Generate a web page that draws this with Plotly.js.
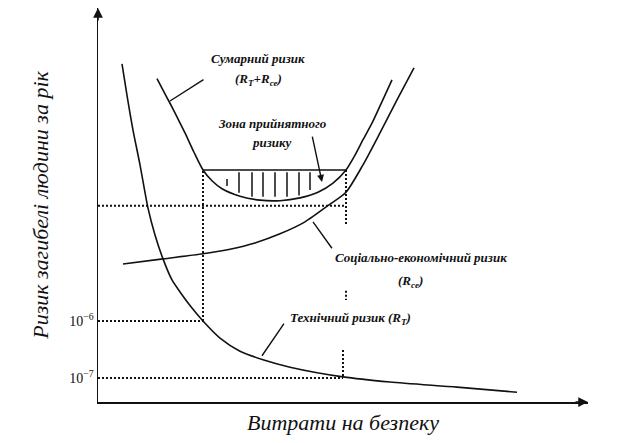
<!DOCTYPE html>
<html>
<head>
<meta charset="utf-8">
<script src="https://cdn.plot.ly/plotly-3.0.1.min.js"></script>
<style>html,body{margin:0;padding:0;background:#fff;}#chart{width:617px;height:443px;}</style>
</head>
<body>
<div id="chart"></div>
<script>
// x: spending on safety (relative units); y: log10 of individual risk of death per year
const techX = [4.8, 5.8, 7.0, 8.4, 10.0, 11.4, 13.0, 14.8, 16.4, 18.6, 21.0, 24.4, 28.4, 33.0, 38.4, 49.0, 58.4, 71.8, 83.8];
const techY = [-1.49, -2.04, -2.65, -3.26, -4.02, -4.49, -4.91, -5.28, -5.49, -5.75, -6.00, -6.30, -6.53, -6.68, -6.81, -6.98, -7.07, -7.16, -7.25];

const socX = [5.0, 13.0, 21.0, 26.4, 31.4, 36.4, 41.4, 46.4, 49.6, 53.0, 56.4, 59.8, 63.2];
const socY = [-5.00, -4.91, -4.82, -4.74, -4.63, -4.47, -4.26, -3.95, -3.74, -3.26, -2.70, -2.12, -1.56];

const totX = [11.8, 13.0, 14.4, 15.8, 17.4, 19.2, 21.0, 22.8, 24.8, 28.4, 32.4, 36.4, 40.4, 44.0, 47.0, 49.6, 51.4, 53.0, 54.8, 56.6, 58.8];
const totY = [-1.75, -1.95, -2.18, -2.42, -2.70, -3.04, -3.35, -3.54, -3.68, -3.81, -3.88, -3.89, -3.84, -3.74, -3.58, -3.35, -3.09, -2.82, -2.53, -2.19, -1.77];

// reference levels and bounds of the acceptable-risk zone
const xLeft = 21.0, xRight = 49.6, xRightLow = 49.0;
const zoneTop = -3.35, levelUpper = -3.98, level6 = -6, level7 = -7;
const rightBreakTop = -4.32, dotsTop = -5.47, dotsBottom = -5.63, rightLowTop = -6.51;

// hatch lines inside the zone
const hatchX = [25.8, 28.2, 30.8, 33.0, 35.4, 37.8, 40.2, 42.4];
const hatchTop = [-3.51, -3.39, -3.39, -3.39, -3.39, -3.39, -3.39, -3.39];
const hatchBot = [-3.63, -3.75, -3.82, -3.82, -3.82, -3.82, -3.80, -3.70];

const tickVals = [-6, -7];
const tickText = ['10<sup>−6</sup>', '10<sup>−7</sup>'];

const gX = [0, xRight, null, 0, xLeft, null, 0, xRightLow, null,
            xLeft, xLeft, null, xRight, xRight, null, xRight, xRight, null, xRightLow, xRightLow];
const gY = [levelUpper, levelUpper, null, level6, level6, null, level7, level7, null,
            level6, zoneTop, null, zoneTop, rightBreakTop, null, dotsTop, dotsBottom, null, rightLowTop, level7];

const hX = [], hY = [];
hatchX.forEach((x, i) => { hX.push(x, x, null); hY.push(hatchTop[i], hatchBot[i], null); });

const lineStyle = {color: '#111', width: 1.6, shape: 'spline', smoothing: 0.7};
const traces = [
  {x: gX, y: gY, mode: 'lines', line: {color: '#111', width: 2, dash: '2px,2px'}, hoverinfo: 'skip'},
  {x: [xLeft, xRight], y: [zoneTop, zoneTop], mode: 'lines', line: {color: '#111', width: 1.5}},
  {x: hX, y: hY, mode: 'lines', line: {color: '#111', width: 1.5}},
  {x: techX, y: techY, mode: 'lines', line: lineStyle, name: 'Технічний ризик'},
  {x: socX, y: socY, mode: 'lines', line: lineStyle, name: 'Соціально-економічний ризик'},
  {x: totX, y: totY, mode: 'lines', line: lineStyle, name: 'Сумарний ризик'}
];

const SERIF = 'Liberation Serif';
const lab = {family: SERIF, size: 13, color: '#111', style: 'italic', weight: 'bold'};
function txt(x, y, t, anchor) {
  return {x: x, y: y, xref: 'x', yref: 'y', text: t, showarrow: false, xanchor: anchor || 'center', yanchor: 'middle', font: lab};
}
function ptr(x, y, ax, ay, head) {
  return {x: x, y: y, ax: ax, ay: ay, xref: 'x', yref: 'y', axref: 'x', ayref: 'y', text: '', showarrow: true,
          arrowhead: head ? 2 : 0, arrowwidth: 1.4, arrowsize: 1, arrowcolor: '#111', standoff: 0, startstandoff: 0};
}

const annotations = [
  txt(32.0, -1.39, 'Сумарний ризик'),
  txt(32.0, -1.77, '(R<sub>T</sub>+R<sub>се</sub>)'),
  txt(34.8, -2.53, 'Зона прийнятного'),
  txt(34.8, -2.86, 'ризику'),
  txt(47.0, -4.89, 'Соціально-економічний ризик', 'left'),
  txt(62.4, -5.30, '(R<sub>се</sub>)'),
  txt(38.0, -5.95, 'Технічний ризик (R<sub>T</sub>)', 'left'),
  ptr(14.4, -2.14, 21.4, -1.75, false),
  ptr(43.0, -4.26, 47.0, -4.75, false),
  ptr(32.8, -6.61, 37.4, -6.02, false),
  ptr(44.8, -3.56, 42.8, -2.74, true),
  {x: 1, y: 0, xref: 'paper', yref: 'paper', ax: -14, ay: 0, text: '', showarrow: true, arrowhead: 2, arrowsize: 1.3, arrowwidth: 1.5, arrowcolor: '#111', standoff: 0},
  {x: 0, y: 1, xref: 'paper', yref: 'paper', ax: 0, ay: 14, text: '', showarrow: true, arrowhead: 2, arrowsize: 1.3, arrowwidth: 1.5, arrowcolor: '#111', standoff: 0}
];

const layout = {
  width: 617, height: 443,
  margin: {l: 98, r: 29, t: 8, b: 41},
  paper_bgcolor: '#fff', plot_bgcolor: '#fff',
  showlegend: false,
  xaxis: {range: [0, 98], showgrid: false, zeroline: false, showline: true, linecolor: '#111', linewidth: 1.5,
          showticklabels: false, ticks: '',
          title: {text: 'Витрати на безпеку', standoff: 12, font: {family: SERIF, size: 22, style: 'italic', color: '#111'}}},
  yaxis: {range: [-7.421, -0.509], showgrid: false, zeroline: false, showline: true, linecolor: '#111', linewidth: 1.5,
          tickvals: tickVals, ticktext: tickText, ticks: '', tickfont: {family: SERIF, size: 14, color: '#111'},
          title: {text: 'Ризик загибелі людини за рік', standoff: 14, font: {family: SERIF, size: 22, style: 'italic', color: '#111'}}},
  annotations: annotations
};

Plotly.newPlot('chart', traces, layout, {displayModeBar: false, staticPlot: true});
</script>
</body>
</html>
